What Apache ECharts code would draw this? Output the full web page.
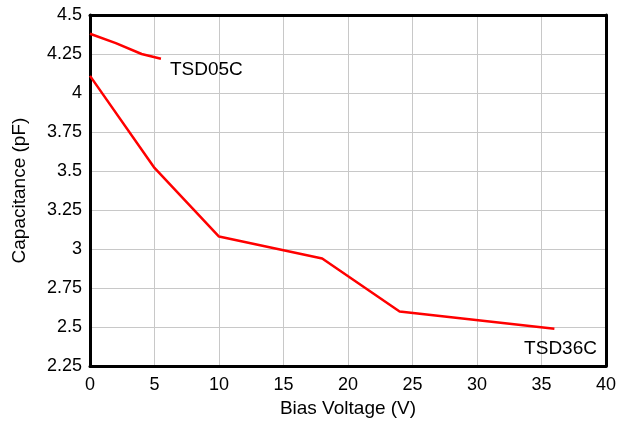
<!DOCTYPE html>
<html><head><meta charset="utf-8">
<script src="https://cdn.jsdelivr.net/npm/echarts@6/dist/echarts.min.js"></script>
<style>html,body{margin:0;padding:0;background:#fff}#c{width:631px;height:423px}</style>
</head><body><div id="c"></div>
<script>
const tsd05cX = [0, 2, 4, 5.5];
const tsd05cY = [4.38, 4.32, 4.25, 4.22];
const tsd36cX = [0, 5, 10, 18, 24, 36];
const tsd36cY = [4.11, 3.52, 3.08, 2.94, 2.60, 2.49];
const seriesNames = ['TSD05C', 'TSD36C'];
const labelPos = [[6.2, 4.15], [39.3, 2.358]];

const font = 'Liberation Sans, Arial, sans-serif';
const fs = 18;
const fsName = 19;
const chart = echarts.init(document.getElementById('c'), null, {renderer: 'canvas'});
function pairs(xs, ys) { return xs.map((x, i) => [x, ys[i]]); }
chart.setOption({
  animation: false,
  grid: {left: 90, right: 25, top: 15, bottom: 56, show: false},
  xAxis: [{
    type: 'value', min: 0, max: 40, interval: 5,
    name: 'Bias Voltage (V)', nameLocation: 'middle', nameGap: 32,
    nameTextStyle: {fontFamily: font, fontSize: fsName, color: '#000'},
    axisLine: {show: true, onZero: false, lineStyle: {color: '#000', width: 3}}, axisTick: {show: false},
    axisLabel: {fontFamily: font, fontSize: fs, color: '#000', margin: 10},
    splitLine: {show: true, showMinLine: false, showMaxLine: false, lineStyle: {color: '#c8c8c8', width: 1}}
  }, {
    type: 'value', min: 0, max: 40, position: 'top',
    axisLine: {show: true, onZero: false, lineStyle: {color: '#000', width: 3}}, axisTick: {show: false},
    axisLabel: {show: false}, splitLine: {show: false}
  }],
  yAxis: [{
    type: 'value', min: 2.25, max: 4.5, interval: 0.25,
    name: 'Capacitance (pF)', nameLocation: 'middle', nameGap: 61,
    nameTextStyle: {fontFamily: font, fontSize: fsName, color: '#000'},
    axisLine: {show: true, onZero: false, lineStyle: {color: '#000', width: 3}}, axisTick: {show: false},
    axisLabel: {fontFamily: font, fontSize: fs, color: '#000', margin: 8,
      formatter: v => String(Math.round(v * 100) / 100)},
    splitLine: {show: true, showMinLine: false, showMaxLine: false, lineStyle: {color: '#c8c8c8', width: 1}}
  }, {
    type: 'value', min: 2.25, max: 4.5, position: 'right',
    axisLine: {show: true, onZero: false, lineStyle: {color: '#000', width: 3}}, axisTick: {show: false},
    axisLabel: {show: false}, splitLine: {show: false}
  }],
  series: [
    {
      name: seriesNames[0], type: 'line', data: pairs(tsd05cX, tsd05cY),
      symbol: 'none', lineStyle: {color: '#ff0000', width: 2.5},
      markPoint: {symbol: 'circle', symbolSize: 0, data: [{coord: labelPos[0], value: seriesNames[0]}],
        label: {show: true, formatter: seriesNames[0], position: 'right', distance: 0,
          fontFamily: font, fontSize: fsName, color: '#000'}}
    },
    {
      name: seriesNames[1], type: 'line', data: pairs(tsd36cX, tsd36cY),
      symbol: 'none', lineStyle: {color: '#ff0000', width: 2.5},
      markPoint: {symbol: 'circle', symbolSize: 0, data: [{coord: labelPos[1], value: seriesNames[1]}],
        label: {show: true, formatter: seriesNames[1], position: 'left', distance: 0,
          fontFamily: font, fontSize: fsName, color: '#000'}}
    }
  ]
});
</script></body></html>
